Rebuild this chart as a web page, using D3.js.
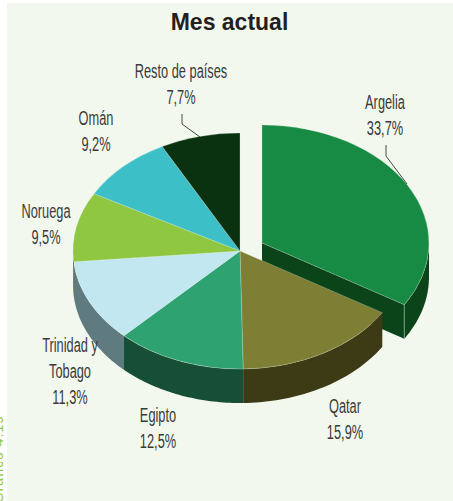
<!DOCTYPE html>
<html>
<head>
<meta charset="utf-8">
<script src="https://cdn.jsdelivr.net/npm/d3@7"></script>
<style>
    html, body { margin: 0; padding: 0; background: #fff; }
    svg { display: block; }
</style>
</head>
<body>
<svg id="chart"></svg>
<script>
// shares, clockwise from 12 o'clock
var paises = ["Argelia", "Qatar", "Egipto", "Trinidad y Tobago", "Noruega", "Omán", "Resto de países"]
var valores = [33.7, 15.9, 12.5, 11.3, 9.5, 9.2, 7.7]
var etiquetas = ["33,7%", "15,9%", "12,5%", "11,3%", "9,5%", "9,2%", "7,7%"]

var coloresTop = ["#178a43", "#7e7f35", "#2fa272", "#c3e7f1", "#8fc840", "#3dbfc7", "#0b3210"]
var coloresWall = ["#0c4419", "#3c3b16", "#174f36", "#5f7b80", "#4a6a20", "#1f6064", "#061a08"]

var dimensions = { width: 453, height: 501 }
var pieGeo = { cx: 240, cy: 251, rx: 167, ry: 118, depth: 34, explodeX: 22, explodeY: -8 }

// where each label block goes: x center, y of the first line baseline
var labelPos = [
    { x: 385, y: 109, lines: ["Argelia"] },
    { x: 345, y: 413, lines: ["Qatar"] },
    { x: 158, y: 422, lines: ["Egipto"] },
    { x: 70, y: 352, lines: ["Trinidad y", "Tobago"] },
    { x: 46, y: 218, lines: ["Noruega"] },
    { x: 96, y: 125, lines: ["Omán"] },
    { x: 181, y: 78, lines: ["Resto de países"] }
]
var leaders = [
    [[386, 145], [386, 156], [407, 184]],
    [[182, 114], [182, 124], [200, 137]]
]

var svg = d3.select("#chart")
    .attr("width", dimensions.width)
    .attr("height", dimensions.height)

svg.append("rect")
    .attr("x", 7).attr("y", 3)
    .attr("width", dimensions.width - 7).attr("height", dimensions.height - 3)
    .attr("fill", "#f3f8ee")

// side caption, runs off the left edge in the original too
svg.append("text")
    .attr("transform", "translate(3,415) rotate(-90)")
    .attr("text-anchor", "end")
    .attr("font-family", "'Liberation Sans', sans-serif")
    .attr("font-size", 14)
    .attr("letter-spacing", 1)
    .attr("fill", "#8fc840")
    .text("Gráfico 4.19")

svg.append("text")
    .attr("x", 229.5)
    .attr("y", 30)
    .attr("text-anchor", "middle")
    .attr("font-family", "'Liberation Sans', Arial, sans-serif")
    .attr("font-weight", "bold")
    .attr("font-size", 23)
    .attr("fill", "#231f20")
    .text("Mes actual")

var pie = d3.pie().sort(null)
var arcs = pie(valores)

var arcGen = d3.arc().innerRadius(0).outerRadius(1)

function px(t) { return pieGeo.rx * Math.sin(t) }
function py(t) { return -pieGeo.ry * Math.cos(t) }

// outer wall, only the part of the rim that faces the viewer
function wallPath(a) {
    var t0 = Math.max(a.startAngle, Math.PI / 2)
    var t1 = Math.min(a.endAngle, Math.PI * 3 / 2)
    if (t1 <= t0) return null
    var pts = d3.range(0, 41).map(function (i) { return t0 + (t1 - t0) * i / 40 })
    var line = d3.line().x(function (t) { return px(t) }).y(function (t) { return py(t) })
    var lower = pts.slice().reverse().map(function (t) { return [px(t), py(t) + pieGeo.depth] })
    return line(pts) + "L" + lower.map(function (p) { return p.join(",") }).join("L") + "Z"
}

function drawSlice(a, i, dx, dy) {
    var g = svg.append("g").attr("transform", "translate(" + (pieGeo.cx + dx) + "," + (pieGeo.cy + dy) + ")")
    var d = wallPath(a)
    if (d) g.append("path").attr("d", d).attr("fill", coloresWall[i])
    return g
}

function drawTop(g, a, i) {
    g.append("path")
        .attr("d", arcGen(a))
        .attr("transform", "scale(" + pieGeo.rx + "," + pieGeo.ry + ")")
        .attr("fill", coloresTop[i])
        .attr("stroke", "#dfeee0")
        .attr("stroke-opacity", 0.45)
        .attr("stroke-width", 0.6)
        .attr("vector-effect", "non-scaling-stroke")
}

// Argelia goes first, it sits behind the rest: cut face, wall, top
var gArg = drawSlice(arcs[0], 0, pieGeo.explodeX, pieGeo.explodeY)
var tEnd = arcs[0].endAngle
gArg.insert("path", ":first-child")
    .attr("d", d3.line()([[0, 0], [px(tEnd), py(tEnd)], [px(tEnd), py(tEnd) + pieGeo.depth], [0, pieGeo.depth]]) + "Z")
    .attr("fill", coloresWall[0])
gArg.append("line")
    .attr("x1", px(tEnd)).attr("y1", py(tEnd))
    .attr("x2", px(tEnd)).attr("y2", py(tEnd) + pieGeo.depth)
    .attr("stroke", "#8fb89a").attr("stroke-width", 0.7)
drawTop(gArg, arcs[0], 0)

// rest of the pie
var groups = []
arcs.forEach(function (a, i) {
    if (i === 0) return
    groups.push([drawSlice(a, i, 0, 0), a, i])
})
groups.forEach(function (r) { drawTop(r[0], r[1], r[2]) })

// leader lines
leaders.forEach(function (l) {
    svg.append("path")
        .attr("d", d3.line()(l))
        .attr("fill", "none")
        .attr("stroke", "#333")
        .attr("stroke-width", 0.9)
})

// labels, narrow face squeezed to get close to the condensed original
var lineH = 26
labelPos.forEach(function (p, i) {
    var t = svg.append("text")
        .attr("transform", "translate(" + p.x + "," + p.y + ") scale(0.64,1)")
        .attr("text-anchor", "middle")
        .attr("font-family", "'Liberation Sans Narrow', 'Liberation Sans', sans-serif")
        .attr("font-size", 20)
        .attr("fill", "#3a3a3a")
    p.lines.concat([etiquetas[i]]).forEach(function (s, k) {
        t.append("tspan").attr("x", 0).attr("y", k * lineH).text(s)
    })
})
</script>
</body>
</html>
